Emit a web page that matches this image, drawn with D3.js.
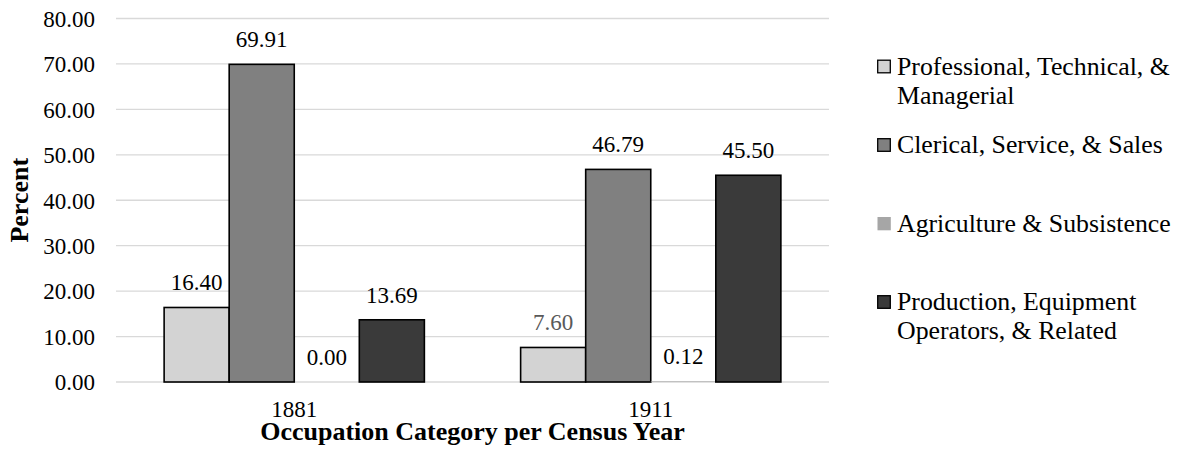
<!DOCTYPE html>
<html>
<head>
<meta charset="utf-8">
<script src="https://cdn.jsdelivr.net/npm/d3@7"></script>
</head>
<body style="margin:0">
<svg id="chart" width="1186" height="464" font-family="Liberation Serif"></svg>
<script>
// Census years on the x axis
const years = ["1881", "1911"];

// Occupation groups (one bar per group in each year)
const seriesNames = [
  "Professional, Technical, & Managerial",
  "Clerical, Service, & Sales",
  "Agriculture & Subsistence",
  "Production, Equipment Operators, & Related"
];

// Legend text, split into the lines it wraps onto
const legendLines = [
  ["Professional, Technical, &", "Managerial"],
  ["Clerical, Service, & Sales"],
  ["Agriculture & Subsistence"],
  ["Production, Equipment", "Operators, & Related"]
];

// Percent of workers per group, listed by year
const values1881 = [16.40, 69.91, 0.00, 13.69];
const values1911 = [7.60, 46.79, 0.12, 45.50];

// Y-axis tick values
const yTicks = [0, 10, 20, 30, 40, 50, 60, 70, 80];

// Fill colours per series
const fills = ["#d3d3d3", "#808080", "#a6a6a6", "#3a3a3a"];
const outlined = [true, true, false, true];

const FONT = "Liberation Serif";

const rows = years.map((y, i) => ({
  year: y,
  values: (i === 0 ? values1881 : values1911)
}));

const svg = d3.select("#chart");

const plot = { left: 116, right: 829, top: 18.5, bottom: 382 };

const x0 = d3.scaleBand()
  .domain(years)
  .range([plot.left, plot.right])
  .paddingInner(0.27)
  .paddingOuter(0.135);

const x1 = d3.scaleBand()
  .domain(d3.range(seriesNames.length))
  .range([0, x0.bandwidth()])
  .padding(0);

const y = d3.scaleLinear()
  .domain([0, 80])
  .range([plot.bottom, plot.top]);

const fmt = d3.format(".2f");

// Horizontal gridlines
svg.append("g")
  .selectAll("line")
  .data(yTicks)
  .join("line")
  .attr("x1", plot.left)
  .attr("x2", plot.right)
  .attr("y1", d => y(d))
  .attr("y2", d => y(d))
  .attr("stroke", "#d9d9d9")
  .attr("stroke-width", 1.3);

// Y axis labels
const yAxis = d3.axisLeft(y)
  .tickValues(yTicks)
  .tickFormat(fmt)
  .tickSize(0)
  .tickPadding(0);

const gy = svg.append("g")
  .attr("transform", `translate(95,0)`)
  .call(yAxis);
gy.attr("font-family", FONT).attr("font-size", 23);
gy.select(".domain").remove();
gy.selectAll("text")
  .attr("font-family", FONT)
  .attr("font-size", 23)
  .attr("fill", "#000")
  .attr("dy", "0.34em");

// X axis labels
const xAxis = d3.axisBottom(x0).tickSize(0).tickPadding(0);
const gx = svg.append("g")
  .attr("transform", `translate(0,${plot.bottom})`)
  .call(xAxis);
gx.attr("font-family", FONT).attr("font-size", 23);
gx.select(".domain").remove();
gx.selectAll("text")
  .attr("font-family", FONT)
  .attr("font-size", 23)
  .attr("fill", "#000")
  .attr("y", 35)
  .attr("dy", 0);

// Bars
const groups = svg.append("g")
  .selectAll("g")
  .data(rows)
  .join("g")
  .attr("transform", d => `translate(${x0(d.year)},0)`);

groups.selectAll("rect")
  .data(d => d.values.map((v, i) => ({ v, i, year: d.year })))
  .join("rect")
  .attr("x", d => x1(d.i))
  .attr("width", x1.bandwidth())
  .attr("y", d => y(d.v))
  .attr("height", d => y(0) - y(d.v))
  .attr("fill", d => fills[d.i])
  .attr("stroke", d => outlined[d.i] && d.v > 0.5 ? "#000" : "none")
  .attr("stroke-width", 1.6);

// Value labels above each bar
groups.selectAll("text")
  .data(d => d.values.map((v, i) => ({ v, i, year: d.year })))
  .join("text")
  .attr("x", d => x1(d.i) + x1.bandwidth() / 2)
  .attr("y", d => y(d.v) - 17)
  .attr("text-anchor", "middle")
  .attr("font-family", FONT)
  .attr("font-size", 23)
  .attr("fill", d => (d.year === "1911" && d.i === 0) ? "#595959" : "#000")
  .text(d => fmt(d.v));

// Axis titles
svg.append("text")
  .attr("transform", `translate(28,${(plot.top + plot.bottom) / 2}) rotate(-90)`)
  .attr("text-anchor", "middle")
  .attr("font-family", FONT)
  .attr("font-size", 26)
  .attr("font-weight", "bold")
  .text("Percent");

svg.append("text")
  .attr("x", (plot.left + plot.right) / 2)
  .attr("y", 440)
  .attr("text-anchor", "middle")
  .attr("font-family", FONT)
  .attr("font-size", 26)
  .attr("font-weight", "bold")
  .text("Occupation Category per Census Year");

// Legend
const legend = svg.append("g").attr("transform", "translate(877,0)");
const entryStep = 78.5, firstBaseline = 74.5, lineHeight = 29;

const entries = legend.selectAll("g")
  .data(seriesNames.map((name, i) => ({ name, i })))
  .join("g")
  .attr("transform", d => `translate(0,${firstBaseline + d.i * entryStep})`);

entries.append("rect")
  .attr("x", d => outlined[d.i] ? 0.7 : 0.5)
  .attr("y", d => outlined[d.i] ? -14.3 : -14.5)
  .attr("width", d => outlined[d.i] ? 12.6 : 13.3)
  .attr("height", d => outlined[d.i] ? 12.6 : 13.3)
  .attr("fill", d => fills[d.i])
  .attr("stroke", d => outlined[d.i] ? "#000" : "none")
  .attr("stroke-width", 1.3);

entries.append("text")
  .attr("font-family", FONT)
  .attr("font-size", 25.8)
  .attr("fill", "#000")
  .selectAll("tspan")
  .data(d => legendLines[d.i])
  .join("tspan")
  .attr("x", 20)
  .attr("y", (d, j) => j * lineHeight)
  .text(d => d);
</script>
</body>
</html>
